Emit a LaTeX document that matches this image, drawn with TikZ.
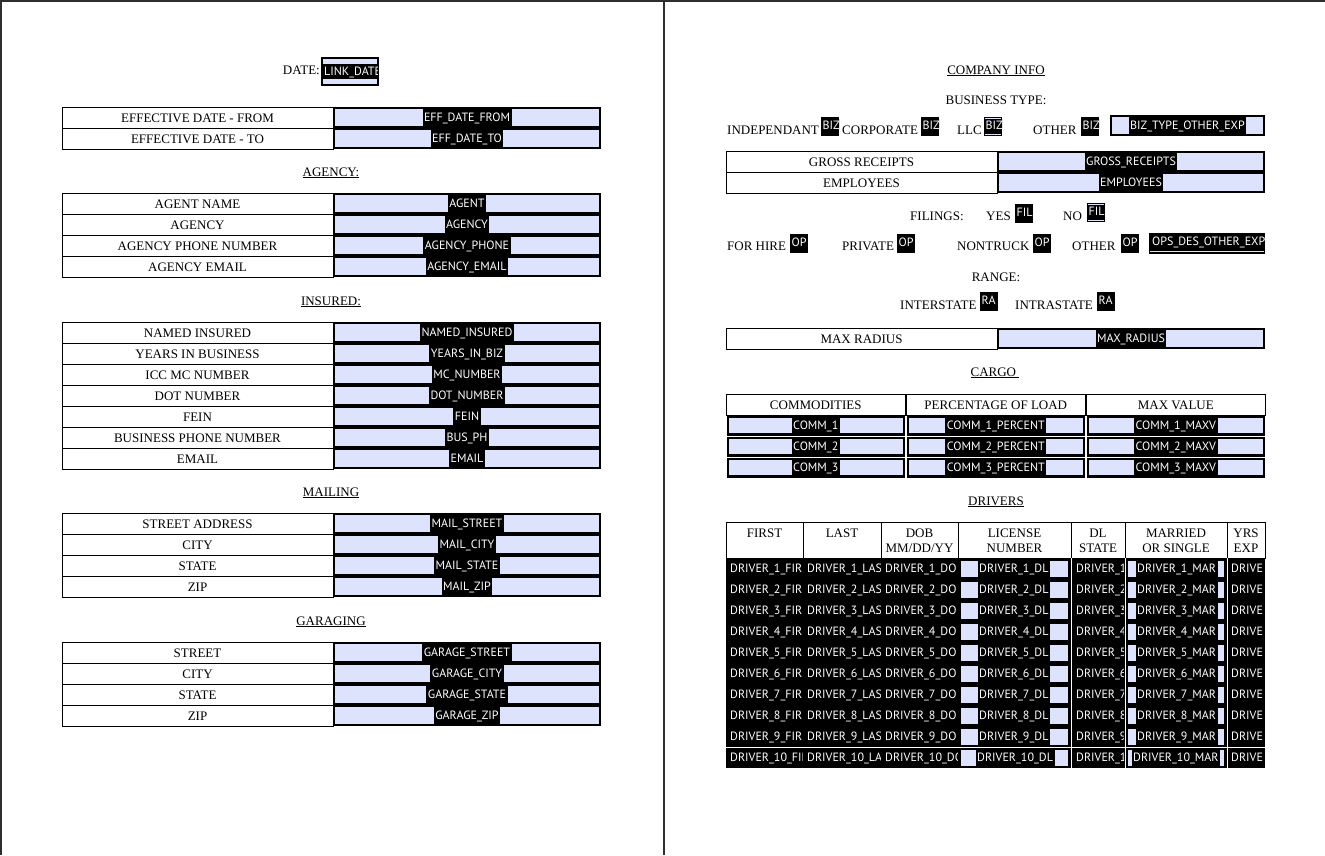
\documentclass[tikz,border=0pt]{standalone}
\usepackage{fontspec}
\setmainfont{Liberation Serif}
\newfontfamily\fieldfont{PT Sans}
\usepackage{tikz}
\usetikzlibrary{positioning}
\definecolor{fieldbg}{HTML}{DDE3FD}
\definecolor{pageline}{HTML}{2E2E2E}

% label cell + field cell: name, x left, x mid, x right, y top, label, field
\newcommand{\formrow}[7]{%
  \draw[line width=0.9pt] (#2,#5) rectangle (#3,#5+21);
  \fill[black] (#3,#5) rectangle (#4,#5+21);
  \fill[fieldbg] (#3+2,#5+2) rectangle (#4-2,#5+19);
  \node[lbl] (#1-l) at ({(#2+#3)/2},#5+10.5) {#6};
  \node[fld] (#1-f) at ({(#3+#4)/2},#5+10.5) {#7};
}
% small check field: name, x, y top, text
\newcommand{\chkbox}[4]{%
  \begin{scope}
    \clip (#2,#3) rectangle (#2+18,#3+19);
    \fill[black] (#2,#3) rectangle (#2+18,#3+19);
    \node[fld, anchor=north west, inner xsep=0pt, minimum height=0pt, text height=10pt] (#1) at (#2+1.5,#3+2) {#4};
  \end{scope}
}

\begin{document}
\begin{tikzpicture}[x=1pt, y=-1pt,
  lbl/.style={font=\fontsize{13}{15}\selectfont, inner sep=0pt, text height=10pt, text depth=0pt},
  txt/.style={lbl, anchor=base west},
  fld/.style={font=\fieldfont\fontsize{12}{14}\selectfont, text=white, fill=black, inner xsep=1.5pt, inner ysep=0pt, text height=8.6pt, text depth=0pt, minimum height=17pt},
  dtxt/.style={fld, anchor=west, inner xsep=0.5pt, minimum height=16pt},
  pline/.style={pageline, line width=1.6pt}]
\useasboundingbox (0,0) rectangle (1325,855);

% page edges
\draw[pline] (0,0.8) -- (1325,0.8);
\draw[pline] (0.8,0) -- (0.8,855);
\draw[pageline, line width=2pt] (664,0) -- (664,855);

% ---------------- left page ----------------
\node[lbl, anchor=base east] (datelbl) at (320,74.5) {DATE:};
\fill[black] (321,57) rectangle (379,86);
\fill[fieldbg] (323,59) rectangle (377,84);
\fill[black] (323,64) rectangle (377,79);
\begin{scope}
  \clip (323,59) rectangle (377,84);
  \node[fld, anchor=west, inner xsep=0pt, minimum height=15pt] (linkdat) at (324,71.5) {LINK\_DATE};
\end{scope}

\foreach \lab/\fv [count=\i from 0] in {EFFECTIVE DATE - FROM/EFF\_DATE\_FROM, EFFECTIVE DATE - TO/EFF\_DATE\_TO}
  {\formrow{eff\i}{62}{333}{601}{107+21*\i}{\lab}{\fv}}

\node[lbl] (hagency) at (331,171) {\underline{AGENCY:}};
\foreach \lab/\fv [count=\i from 0] in {AGENT NAME/AGENT, AGENCY/AGENCY, AGENCY PHONE NUMBER/AGENCY\_PHONE, AGENCY EMAIL/AGENCY\_EMAIL}
  {\formrow{agy\i}{62}{333}{601}{193+21*\i}{\lab}{\fv}}

\node[lbl] (hinsured) at (331,300) {\underline{INSURED:}};
\foreach \lab/\fv [count=\i from 0] in {NAMED INSURED/NAMED\_INSURED, YEARS IN BUSINESS/YEARS\_IN\_BIZ, ICC MC NUMBER/MC\_NUMBER, DOT NUMBER/DOT\_NUMBER, FEIN/FEIN, BUSINESS PHONE NUMBER/BUS\_PH, EMAIL/EMAIL}
  {\formrow{ins\i}{62}{333}{601}{322+21*\i}{\lab}{\fv}}

\node[lbl] (hmail) at (331,491) {\underline{MAILING}};
\foreach \lab/\fv [count=\i from 0] in {STREET ADDRESS/MAIL\_STREET, CITY/MAIL\_CITY, STATE/MAIL\_STATE, ZIP/MAIL\_ZIP}
  {\formrow{mail\i}{62}{333}{601}{513+21*\i}{\lab}{\fv}}

\node[lbl] (hgarage) at (331,620) {\underline{GARAGING}};
\foreach \lab/\fv [count=\i from 0] in {STREET/GARAGE\_STREET, CITY/GARAGE\_CITY, STATE/GARAGE\_STATE, ZIP/GARAGE\_ZIP}
  {\formrow{gar\i}{62}{333}{601}{642+21*\i}{\lab}{\fv}}

% ---------------- right page ----------------
\node[lbl] (hcompany) at (996,69) {\underline{COMPANY INFO}};
\node[lbl] (hbiztype) at (996,99) {BUSINESS TYPE:};

% business type
\node[txt] (indep) at (727,134) {INDEPENDANT};
\chkbox{bzind}{821}{117}{BIZ}
\node[txt] (corp) at (842,134) {CORPORATE};
\chkbox{bzcorp}{921}{117}{BIZ}
\node[txt] (llc) at (957,134) {LLC};
\chkbox{bzllc}{984}{117}{BIZ}
\draw[fieldbg, line width=0.8pt] (985,118.5) -- (1001,118.5) (985,134.5) -- (1001,134.5);
\node[txt] (bzother) at (1033,134) {OTHER};
\chkbox{bzoth}{1081}{117}{BIZ}
\fill[black] (1110,115) rectangle (1265,136);
\fill[fieldbg] (1112,117) rectangle (1263,134);
\node[fld] (bzexp) at (1187.5,125.5) {BIZ\_TYPE\_OTHER\_EXP};

\foreach \lab/\fv [count=\i from 0] in {GROSS RECEIPTS/GROSS\_RECEIPTS, EMPLOYEES/EMPLOYEES}
  {\formrow{co\i}{726}{997}{1265}{151+21*\i}{\lab}{\fv}}

% filings
\node[txt] (filings) at (910,220) {FILINGS:};
\node[txt] (filyes) at (986,220) {YES};
\chkbox{filbyes}{1015}{204}{FIL}
\node[txt] (filno) at (1063,220) {NO};
\chkbox{filbno}{1087}{203}{FIL}
\draw[fieldbg, line width=0.8pt] (1088,204.5) -- (1104,204.5) (1088,220.5) -- (1104,220.5);

% operations
\node[txt] (forhire) at (727,250) {FOR HIRE};
\chkbox{opfor}{790}{234}{OP}
\node[txt] (private) at (842,250) {PRIVATE};
\chkbox{oppriv}{897}{234}{OP}
\node[txt] (nontruck) at (957,250) {NONTRUCK};
\chkbox{opnon}{1033}{234}{OP}
\node[txt] (opother) at (1072,250) {OTHER};
\chkbox{opoth}{1121}{234}{OP}
\fill[black] (1149,233) rectangle (1265,254);
\draw[fieldbg, line width=0.9pt] (1150,251.5) -- (1264,251.5);
\begin{scope}
  \clip (1149,233) rectangle (1265,250);
  \node[fld, anchor=west, inner xsep=0pt, minimum height=15pt] (opexp) at (1152,241.5) {OPS\_DES\_OTHER\_EXP};
\end{scope}

% range
\node[lbl] (hrange) at (996,276) {RANGE:};
\node[txt] (inter) at (900,309) {INTERSTATE};
\chkbox{rginter}{980}{292}{RA}
\node[txt] (intra) at (1015,309) {INTRASTATE};
\chkbox{rgintra}{1097}{292}{RA}

\formrow{rad}{726}{997}{1265}{328}{MAX RADIUS}{MAX\_RADIUS}

% cargo
\node[lbl] (hcargo) at (995,371) {\underline{CARGO\ }};
\foreach \cx/\lab [count=\k] in {726/COMMODITIES, 906/PERCENTAGE OF LOAD, 1086/MAX VALUE} {
  \draw[line width=0.9pt] (\cx,394) rectangle (\cx+179.7,415);
  \node[lbl] (cgh\k) at (\cx+89.8,404.5) {\lab};
}
\foreach \r in {1,2,3} {
  \foreach \cx/\suf [count=\k] in {726/{}, 906/\_PERCENT, 1086/\_MAXV} {
    \fill[black] (\cx+0.5,394+21*\r+0.5) rectangle (\cx+179.2,394+21*\r+20.5);
    \fill[fieldbg] (\cx+3,394+21*\r+3) rectangle (\cx+176.7,394+21*\r+18);
    \node[fld, minimum height=15pt] (cg\r-\k) at (\cx+89.8,394+21*\r+10.5) {COMM\_\r\suf};
  }
}

% drivers
\node[lbl] (hdrivers) at (996,500) {\underline{DRIVERS}};
\foreach \xa/\xb in {726/803, 803/881, 881/958, 958/1071, 1071/1125, 1125/1227, 1227/1265}
  \draw[line width=0.9pt] (\xa,522) rectangle (\xb,558);
\node[lbl, anchor=base] (dhfirst) at (764.5,537) {FIRST};
\node[lbl, anchor=base] (dhlast) at (842,537) {LAST};
\node[lbl, anchor=base] (dhdob) at (919.5,537) {DOB};
\node[lbl, anchor=base] (dhdob2) at (919.5,552) {MM/DD/YY};
\node[lbl, anchor=base] (dhlic) at (1014.5,537) {LICENSE};
\node[lbl, anchor=base] (dhlic2) at (1014.5,552) {NUMBER};
\node[lbl, anchor=base] (dhdl) at (1098,537) {DL};
\node[lbl, anchor=base] (dhdl2) at (1098,552) {STATE};
\node[lbl, anchor=base] (dhmar) at (1176,537) {MARRIED};
\node[lbl, anchor=base] (dhmar2) at (1176,552) {OR SINGLE};
\node[lbl, anchor=base] (dhyrs) at (1246,537) {YRS};
\node[lbl, anchor=base] (dhyrs2) at (1246,552) {EXP};

\fill[black] (726,558) rectangle (1265,768);
\foreach \wx in {1071,1125,1227}
  \draw[white, line width=0.8pt] (\wx,558) -- (\wx,768);
\draw[white, line width=0.8pt] (726,747) -- (1265,747);
\foreach \r in {1,...,10} {
  \fill[fieldbg] (961,540+21*\r) rectangle (1068,556+21*\r);
  \fill[fieldbg] (1128,540+21*\r) rectangle (1224,556+21*\r);
}
\begin{scope}
  \clip (726,558) rectangle (802,768);
  \foreach \r in {1,...,10} \node[dtxt] (dfirst\r) at (729.5,547.5+21*\r) {DRIVER\_\r\_FIR};
\end{scope}
\begin{scope}
  \clip (803,558) rectangle (880,768);
  \foreach \r in {1,...,10} \node[dtxt] (dlast\r) at (806.5,547.5+21*\r) {DRIVER\_\r\_LAS};
\end{scope}
\begin{scope}
  \clip (881,558) rectangle (957,768);
  \foreach \r in {1,...,10} \node[dtxt] (ddob\r) at (884.5,547.5+21*\r) {DRIVER\_\r\_DO};
\end{scope}
\begin{scope}
  \clip (958,558) rectangle (1070,768);
  \foreach \r in {1,...,10} {
    \pgfmathsetmacro\lx{\r<10 ? 977.5 : 975.5}
    \node[dtxt, inner xsep=1.5pt] (dlic\r) at (\lx,547.5+21*\r) {DRIVER\_\r\_DL};
  }
\end{scope}
\begin{scope}
  \clip (1072,558) rectangle (1123,768);
  \foreach \r in {1,...,10} \node[dtxt] (dstate\r) at (1075.5,547.5+21*\r) {DRIVER\_\r};
\end{scope}
\begin{scope}
  \clip (1126,558) rectangle (1226,768);
  \foreach \r in {1,...,10} {
    \pgfmathsetmacro\mx{\r<10 ? 1135.5 : 1131.5}
    \node[dtxt, inner xsep=1.5pt] (dmar\r) at (\mx,547.5+21*\r) {DRIVER\_\r\_MAR};
  }
\end{scope}
\begin{scope}
  \clip (1228,558) rectangle (1265,768);
  \foreach \r in {1,...,10} \node[dtxt] (dyrs\r) at (1230.5,547.5+21*\r) {DRIVE};
\end{scope}
\end{tikzpicture}
\end{document}
